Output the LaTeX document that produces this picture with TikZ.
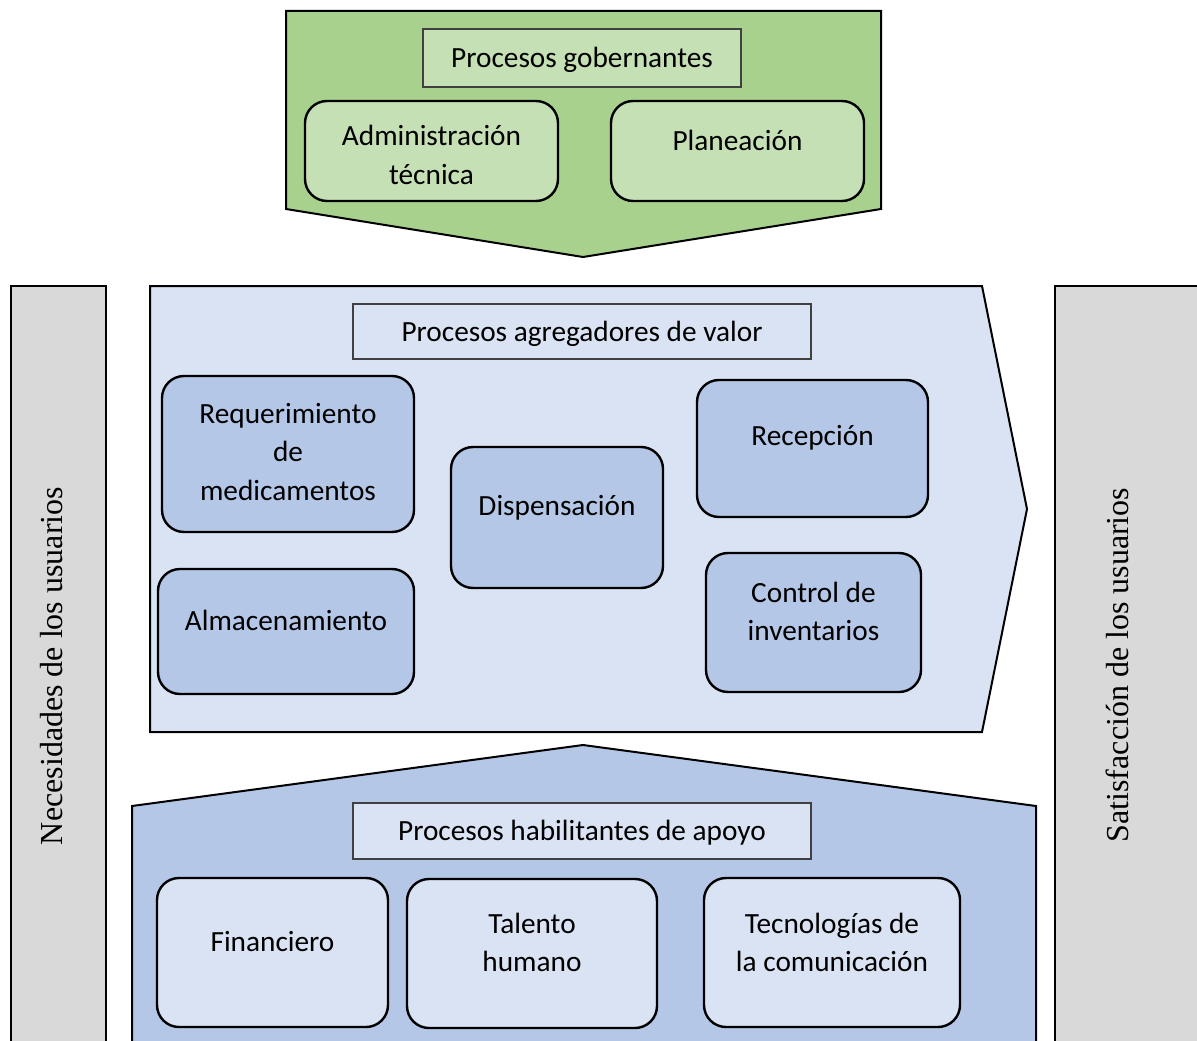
\documentclass[tikz,border=0pt]{standalone}
\usepackage{fontspec}
\setmainfont{Carlito}
\newfontfamily\sidefont{Liberation Serif}
\definecolor{greenD}{HTML}{A9D18E}
\definecolor{greenL}{HTML}{C5E0B4}
\definecolor{blueL}{HTML}{DAE3F3}
\definecolor{blueM}{HTML}{B4C7E7}
\definecolor{greyF}{HTML}{D9D9D9}
\definecolor{titleline}{HTML}{404040}
\tikzset{
  outer/.style={draw=black, line width=2pt, line join=miter},
  sidebar/.style={draw=black, line width=2pt, fill=greyF},
  titlebox/.style={draw=titleline, line width=1.1pt, inner sep=0pt,
    text height=25pt, text depth=6pt,
    font=\fontsize{29.3}{38.5}\selectfont},
  procbox/.style={draw=black, line width=2.4pt, rounded corners=22pt, inner sep=0pt},
  lbl/.style={align=center, inner sep=0pt, font=\fontsize{29.3}{38.5}\selectfont},
  sidelbl/.style={rotate=90, inner sep=0pt, font=\sidefont\fontsize{32}{38}\selectfont}
}
\begin{document}
\begin{tikzpicture}[x=1pt,y=-1pt]
\useasboundingbox (0,0) rectangle (1197,1041);
\begin{scope}
  \clip (0,0) rectangle (1197,1041);
  % side bars
  \draw[sidebar] (11,286) rectangle (106,1070);
  \draw[sidebar] (1055,286) rectangle (1230,1070);
  % governing processes (arrow pointing down)
  \draw[outer, fill=greenD] (286,11) -- (881,11) -- (881,209) -- (583,257) -- (286,209) -- cycle;
  % value processes (chevron pointing right)
  \draw[outer, fill=blueL] (150,286) -- (982,286) -- (1027,509) -- (982,732) -- (150,732) -- cycle;
  % support processes (house shape)
  \draw[outer, fill=blueM] (132,1070) -- (132,806) -- (583,745) -- (1036,806) -- (1036,1070);
\end{scope}

% side labels
\node[sidelbl] (nec) at (52,666) {Necesidades de los usuarios};
\node[sidelbl] (sat) at (1117,665) {Satisfacción de los usuarios};

% governing processes
\node[titlebox, fill=greenL, minimum width=318pt, minimum height=58pt] (gob) at (582,58) {Procesos gobernantes};
\node[procbox, fill=greenL, minimum width=253pt, minimum height=100pt] (adm) at (431.5,151) {};
\node[lbl] (adm-t) at ([yshift=-4pt]adm.center) {Administración\\técnica};
\node[procbox, fill=greenL, minimum width=253pt, minimum height=100pt] (plan) at (737.5,151) {};
\node[lbl] (plan-t) at ([yshift=11pt]plan.center) {Planeación};

% value-adding processes
\node[titlebox, fill=blueL, minimum width=458pt, minimum height=55pt] (agr) at (582,331.5) {Procesos agregadores de valor};
\node[procbox, fill=blueM, minimum width=252pt, minimum height=156pt] (req) at (288,454) {};
\node[lbl] (req-t) at ([yshift=2pt]req.center) {Requerimiento\\de\\medicamentos};
\node[procbox, fill=blueM, minimum width=256pt, minimum height=125pt] (alm) at (286,631.5) {};
\node[lbl] (alm-t) at ([yshift=11pt]alm.center) {Almacenamiento};
\node[procbox, fill=blueM, minimum width=212pt, minimum height=141pt] (disp) at (557,517.5) {};
\node[lbl] (disp-t) at ([yshift=10pt]disp.center) {Dispensación};
\node[procbox, fill=blueM, minimum width=231pt, minimum height=137pt] (rec) at (812.5,448.5) {};
\node[lbl] (rec-t) at ([yshift=11pt]rec.center) {Recepción};
\node[procbox, fill=blueM, minimum width=215pt, minimum height=139pt] (ctrl) at (813.5,622.5) {};
\node[lbl] (ctrl-t) at ([yshift=11pt]ctrl.center) {Control de\\inventarios};

% enabling support processes
\node[titlebox, fill=blueL, minimum width=458pt, minimum height=56pt] (hab) at (582,831) {Procesos habilitantes de apoyo};
\node[procbox, fill=blueL, minimum width=231pt, minimum height=149pt] (fin) at (272.5,952.5) {};
\node[lbl] (fin-t) at ([yshift=11pt]fin.center) {Financiero};
\node[procbox, fill=blueL, minimum width=250pt, minimum height=149pt] (tal) at (532,953.5) {};
\node[lbl] (tal-t) at ([yshift=11pt]tal.center) {Talento\\humano};
\node[procbox, fill=blueL, minimum width=256pt, minimum height=149pt] (tec) at (832,952.5) {};
\node[lbl] (tec-t) at ([yshift=10pt]tec.center) {Tecnologías de\\la comunicación};
\end{tikzpicture}
\end{document}
